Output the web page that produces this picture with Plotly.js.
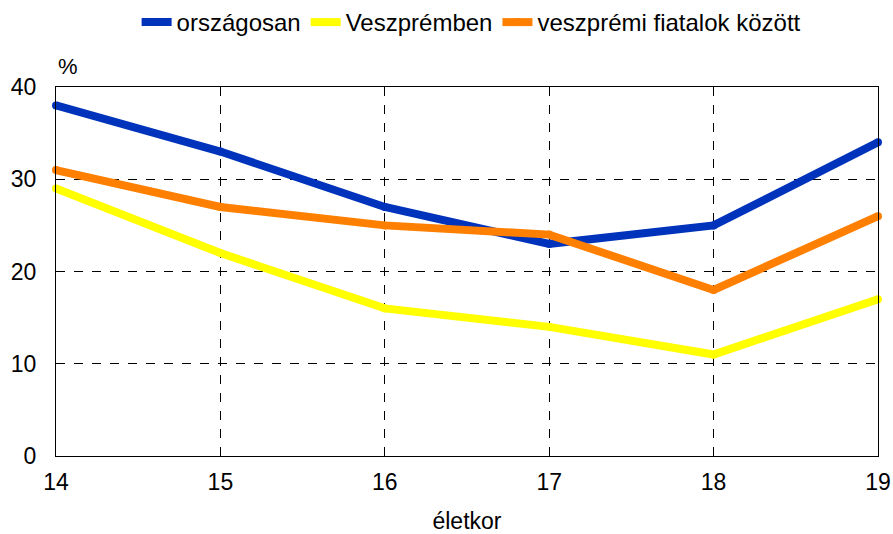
<!DOCTYPE html>
<html>
<head>
<meta charset="utf-8">
<script src="https://cdn.plot.ly/plotly-3.0.1.min.js"></script>
<style>
  html, body { margin: 0; padding: 0; background: #fff; }
  #chart { width: 893px; height: 534px; }
</style>
</head>
<body>
<div id="chart"></div>
<script>
"use strict";

const ages = [14, 15, 16, 17, 18, 19];
const orszagosan = [38, 33, 27, 23, 25, 34];
const veszpremben = [29, 22, 16, 14, 11, 17];
const fiatalok = [31, 27, 25, 24, 18, 26];
const yTicks = [0, 10, 20, 30, 40];

function line(name, y, color) {
    return {
        x: ages,
        y: y,
        name: name,
        type: 'scatter',
        mode: 'lines+markers',
        cliponaxis: false,
        line: { color: color, width: 8 },
        marker: { color: color, size: 8 }
    };
}

function main() {
    let traces = [
        line('országosan', orszagosan, '#0033bb'),
        line('Veszprémben', veszpremben, '#ffff00'),
        line('veszprémi fiatalok között', fiatalok, '#ff7f00')
    ];

    let layout = {
        width: 893,
        height: 534,
        margin: { l: 56, r: 15, t: 87, b: 78 },
        paper_bgcolor: '#fff',
        plot_bgcolor: '#fff',
        font: { family: 'Liberation Sans, Arial, sans-serif', size: 23, color: '#000' },
        showlegend: true,
        legend: {
            orientation: 'h',
            x: 0.505, xanchor: 'center',
            y: 1, yref: 'container', yanchor: 'top',
            font: { size: 24 },
            itemwidth: 30,
            tracegroupgap: 0
        },
        xaxis: {
            range: [14, 19],
            tickvals: ages,
            ticks: '',
            ticklabelstandoff: 5,
            showline: true, mirror: true, linecolor: '#000', linewidth: 1,
            showgrid: true, gridcolor: '#000', griddash: 'dash', gridwidth: 1,
            zeroline: false,
            title: { text: 'életkor', font: { size: 23 }, standoff: 20 }
        },
        yaxis: {
            range: [0, 40],
            tickvals: yTicks,
            ticks: '',
            ticklabelstandoff: 14,
            showline: true, mirror: true, linecolor: '#000', linewidth: 1,
            showgrid: true, gridcolor: '#000', griddash: 'dash', gridwidth: 1,
            zeroline: false
        },
        annotations: [{
            text: '%',
            xref: 'paper', yref: 'paper',
            x: 0, y: 1,
            xanchor: 'left', yanchor: 'bottom',
            yshift: 6,
            showarrow: false,
            font: { size: 22 }
        }]
    };

    Plotly.newPlot('chart', traces, layout, { displayModeBar: false, staticPlot: true });
}

document.addEventListener("DOMContentLoaded", event => main());
</script>
</body>
</html>
